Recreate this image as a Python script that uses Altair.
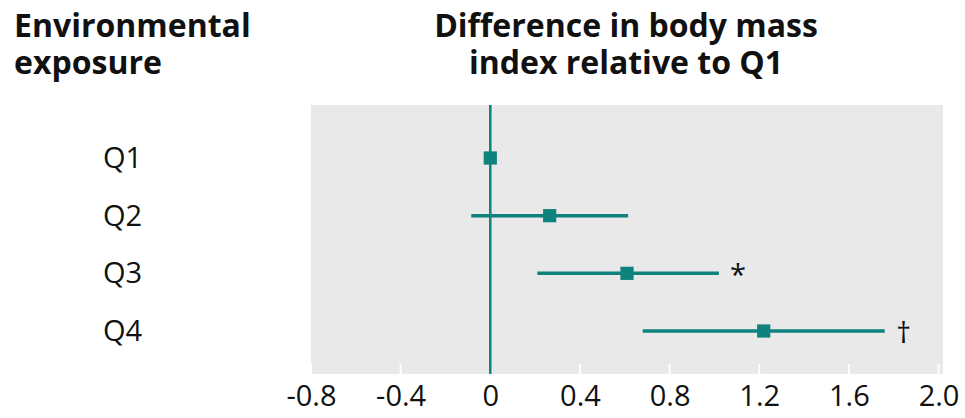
import altair as alt
import pandas as pd

# Forest plot: BMI difference by quartile of environmental exposure
quartiles = ["Q1", "Q2", "Q3", "Q4"]
estimate = [0.0, 0.265, 0.61, 1.22]
ci_low = [None, -0.085, 0.21, 0.68]
ci_high = [None, 0.615, 1.02, 1.76]
significance = ["", "", "*", "†"]
x_ticks = [-0.8, -0.4, 0.0, 0.4, 0.8, 1.2, 1.6, 2.0]

TEAL = "#0e827d"
GREY = "#e9e9e9"
INK = "#111111"
FONT = "Open Sans"

W, H = 632, 269

df = pd.DataFrame({
    "q": quartiles,
    "est": estimate,
    "lo": ci_low,
    "hi": ci_high,
    "sig": significance,
})
ticks_df = pd.DataFrame({"v": x_ticks})

x_scale = alt.Scale(domain=[-0.8, 2.02], nice=False, zero=False)
y_enc = alt.Y("q:O", sort=quartiles, axis=None,
              scale=alt.Scale(type="point", range=[53, 226], padding=0))

base = alt.Chart(df)

# inner white tick marks along the bottom edge, plus the x-axis labels
tick_marks = alt.Chart(ticks_df).mark_rule(color="white", strokeWidth=2).encode(
    x=alt.X("v:Q", scale=x_scale,
            axis=alt.Axis(values=x_ticks,
                          labelExpr="datum.value == 0 ? '0' : replace(format(datum.value, '.1f'), '\u2212', '-')",
                          title=None, domain=False, ticks=False, grid=False,
                          labelFont=FONT, labelFontSize=29, labelColor=INK,
                          labelBaseline="alphabetic", labelPadding=31,
                          labelFlush=False)),
    y=alt.value(H - 10),
    y2=alt.value(H),
)

zero_line = alt.Chart(pd.DataFrame({"z": [0.0]})).mark_rule(color=TEAL, strokeWidth=2.5).encode(
    x=alt.X("z:Q", scale=x_scale)
)

ci = base.transform_filter("isValid(datum.lo)").mark_rule(color=TEAL, strokeWidth=3.5).encode(
    x=alt.X("lo:Q", scale=x_scale),
    x2="hi:Q",
    y=y_enc,
)

points = base.mark_square(color=TEAL, size=175, opacity=1).encode(
    x=alt.X("est:Q", scale=x_scale),
    y=y_enc,
)

sig = base.transform_filter("datum.sig != ''").mark_text(
    font=FONT, fontSize=29, color=INK, dx=19, dy=3, align="center", baseline="middle"
).encode(
    x=alt.X("hi:Q", scale=x_scale),
    y=y_enc,
    text="sig:N",
)

row_labels = base.mark_text(
    font=FONT, fontSize=29, color=INK, align="left", baseline="middle", dy=1
).encode(
    x=alt.value(-208),
    y=y_enc,
    text="q:N",
)

left_title = alt.Chart(pd.DataFrame({"t": ["Environmental\nexposure"]})).mark_text(
    font=FONT, fontSize=32, fontWeight="bold", color=INK,
    align="left", baseline="alphabetic", lineBreak="\n", lineHeight=37,
).encode(x=alt.value(-297), y=alt.value(-68), text="t:N")

right_title = alt.Chart(pd.DataFrame({"t": ["Difference in body mass\nindex relative to Q1"]})).mark_text(
    font=FONT, fontSize=32, fontWeight="bold", color=INK,
    align="center", baseline="alphabetic", lineBreak="\n", lineHeight=37,
).encode(x=alt.value(315), y=alt.value(-68), text="t:N")

chart = alt.layer(
    tick_marks, zero_line, ci, points, sig, row_labels, left_title, right_title
).properties(
    width=W, height=H,
    autosize=alt.AutoSizeParams(type="none"),
    padding={"left": 311, "top": 105, "right": 22, "bottom": 44},
    background="white",
).configure_view(fill=GREY, stroke=None)

chart.save("out.html", embed_options={"renderer": "svg", "actions": False})
